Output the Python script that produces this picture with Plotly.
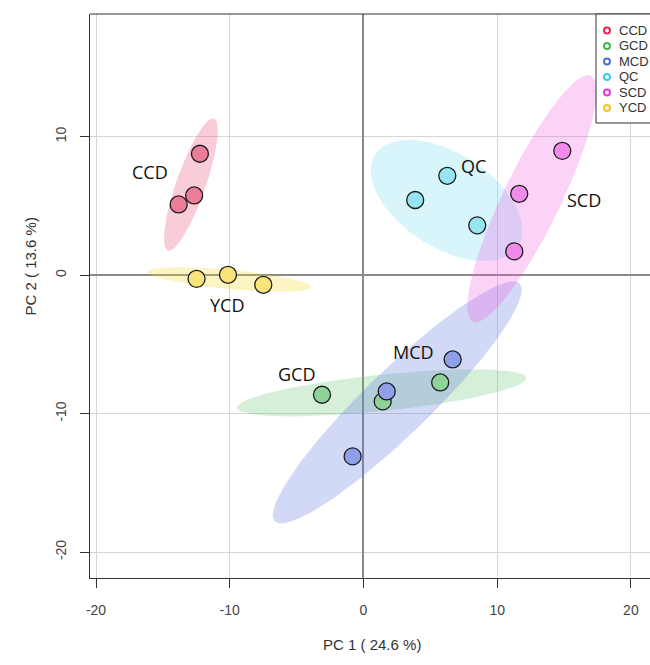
import numpy as np
import plotly.graph_objects as go

groups = ["CCD", "GCD", "MCD", "QC", "SCD", "YCD"]
pc1 = {
    "CCD": [-12.23, -12.66, -13.82],
    "GCD": [-3.10, 1.44, 5.74],
    "MCD": [1.74, 6.67, -0.81],
    "QC": [6.27, 3.87, 8.51],
    "SCD": [14.87, 11.65, 11.28],
    "YCD": [-12.48, -10.13, -7.49],
}
pc2 = {
    "CCD": [8.76, 5.75, 5.10],
    "GCD": [-8.64, -9.12, -7.75],
    "MCD": [-8.40, -6.09, -13.09],
    "QC": [7.17, 5.42, 3.59],
    "SCD": [8.97, 5.87, 1.71],
    "YCD": [-0.27, 0.02, -0.70],
}
label_pos = {
    "CCD": (-15.97, 7.44),
    "GCD": (-4.97, -7.15),
    "MCD": (3.78, -5.56),
    "QC": (8.26, 7.87),
    "SCD": (16.5, 5.42),
    "YCD": (-10.21, -2.17),
}
tick_vals = [-20, -10, 0, 10, 20]
tick_text = ["-20", "-10", "0", "10", "20"]

legend_col = {"CCD": "#EC2450", "GCD": "#3DB54A", "MCD": "#4C6EE0",
              "QC": "#33CCF2", "SCD": "#EE35DC", "YCD": "#F5C51E"}
point_col = {"CCD": "#EC7D98", "GCD": "#8FD39A", "MCD": "#8FA0EA",
             "QC": "#97E5F3", "SCD": "#F18BEB", "YCD": "#F9E47A"}
ell_col = {"CCD": "rgba(236,90,125,0.30)", "GCD": "rgba(90,190,100,0.25)",
           "MCD": "rgba(90,115,225,0.27)", "QC": "rgba(80,210,240,0.22)",
           "SCD": "rgba(238,80,225,0.25)", "YCD": "rgba(245,215,40,0.28)"}

t = np.sqrt(-2 * np.log(1 - 0.95))
theta = np.linspace(0, 2 * np.pi, 200)

fig = go.Figure()
for g in groups:
    xy = np.vstack([pc1[g], pc2[g]])
    m = xy.mean(axis=1)
    cov = np.cov(xy)
    w, v = np.linalg.eigh(cov)
    circ = np.vstack([np.cos(theta), np.sin(theta)])
    e = m[:, None] + t * (v @ (np.sqrt(np.maximum(w, 0))[:, None] * circ))
    fig.add_trace(go.Scatter(x=e[0], y=e[1], mode="lines", fill="toself",
                             fillcolor=ell_col[g], line=dict(width=0),
                             hoverinfo="skip", showlegend=False))
for g in groups:
    fig.add_trace(go.Scatter(x=pc1[g], y=pc2[g], mode="markers",
                             marker=dict(size=17, color=point_col[g],
                                         line=dict(color="#1a1a1a", width=1.3)),
                             showlegend=False, name=g))
for g in groups:
    fig.add_annotation(x=label_pos[g][0], y=label_pos[g][1], text=g,
                       showarrow=False, font=dict(family="Open Sans", size=18, color="#111"))

L, R, T, B = 90, 650, 14, 578
W, H = R - L, B - T
def px(xp):
    return (xp - L) / W
def py(yp):
    return (B - yp) / H

shapes = [
    dict(type="line", xref="paper", yref="paper", x0=0, x1=1.05, y0=1, y1=1,
         line=dict(color="#333", width=1)),
    dict(type="rect", xref="paper", yref="paper", x0=px(596), x1=px(700), y0=py(123), y1=1,
         fillcolor="white", line=dict(color="#333", width=1)),
]
leg_y = [30.5, 46, 61.5, 77, 92.5, 108]
for g, yy in zip(groups, leg_y):
    shapes.append(dict(type="circle", xref="paper", yref="paper",
                       xsizemode="pixel", ysizemode="pixel",
                       xanchor=px(607), yanchor=py(yy), x0=-3, x1=3, y0=-3, y1=3,
                       line=dict(color=legend_col[g], width=2)))
    fig.add_annotation(xref="paper", yref="paper", x=px(617), y=py(yy), text=g,
                       showarrow=False, xanchor="left", yanchor="middle",
                       font=dict(family="Liberation Sans", size=13, color="#333"))

fig.add_annotation(xref="paper", yref="paper", x=px(372), y=py(655), text="PC 1 ( 24.6 %)",
                   showarrow=False, font=dict(family="Liberation Sans", size=15, color="#333"))
fig.add_annotation(xref="paper", yref="paper", x=px(19), y=py(267), text="PC 2 ( 13.6 %)",
                   showarrow=False, textangle=-90,
                   font=dict(family="Liberation Sans", size=15, color="#333"))

axis_common = dict(showgrid=True, gridcolor="#d6d6d6", gridwidth=1,
                   zeroline=True, zerolinecolor="#8a8a8a", zerolinewidth=1.5,
                   showline=True, linecolor="#333", linewidth=1,
                   ticks="outside", ticklen=9, tickcolor="#333", tickwidth=1,
                   tickfont=dict(family="Liberation Sans", size=14, color="#444"),
                   tickmode="array", tickvals=tick_vals, ticktext=tick_text, mirror=False)
fig.update_layout(
    width=650, height=665,
    margin=dict(l=L, r=650 - R, t=T, b=665 - B, autoexpand=False),
    paper_bgcolor="white", plot_bgcolor="white",
    showlegend=False,
    shapes=shapes,
    xaxis=dict(range=[-20.45, 21.43], ticklabelstandoff=10, **axis_common),
    yaxis=dict(range=[-21.87, 18.85], tickangle=-90, ticklabelstandoff=8, **axis_common),
)
fig.write_html("out.html")
